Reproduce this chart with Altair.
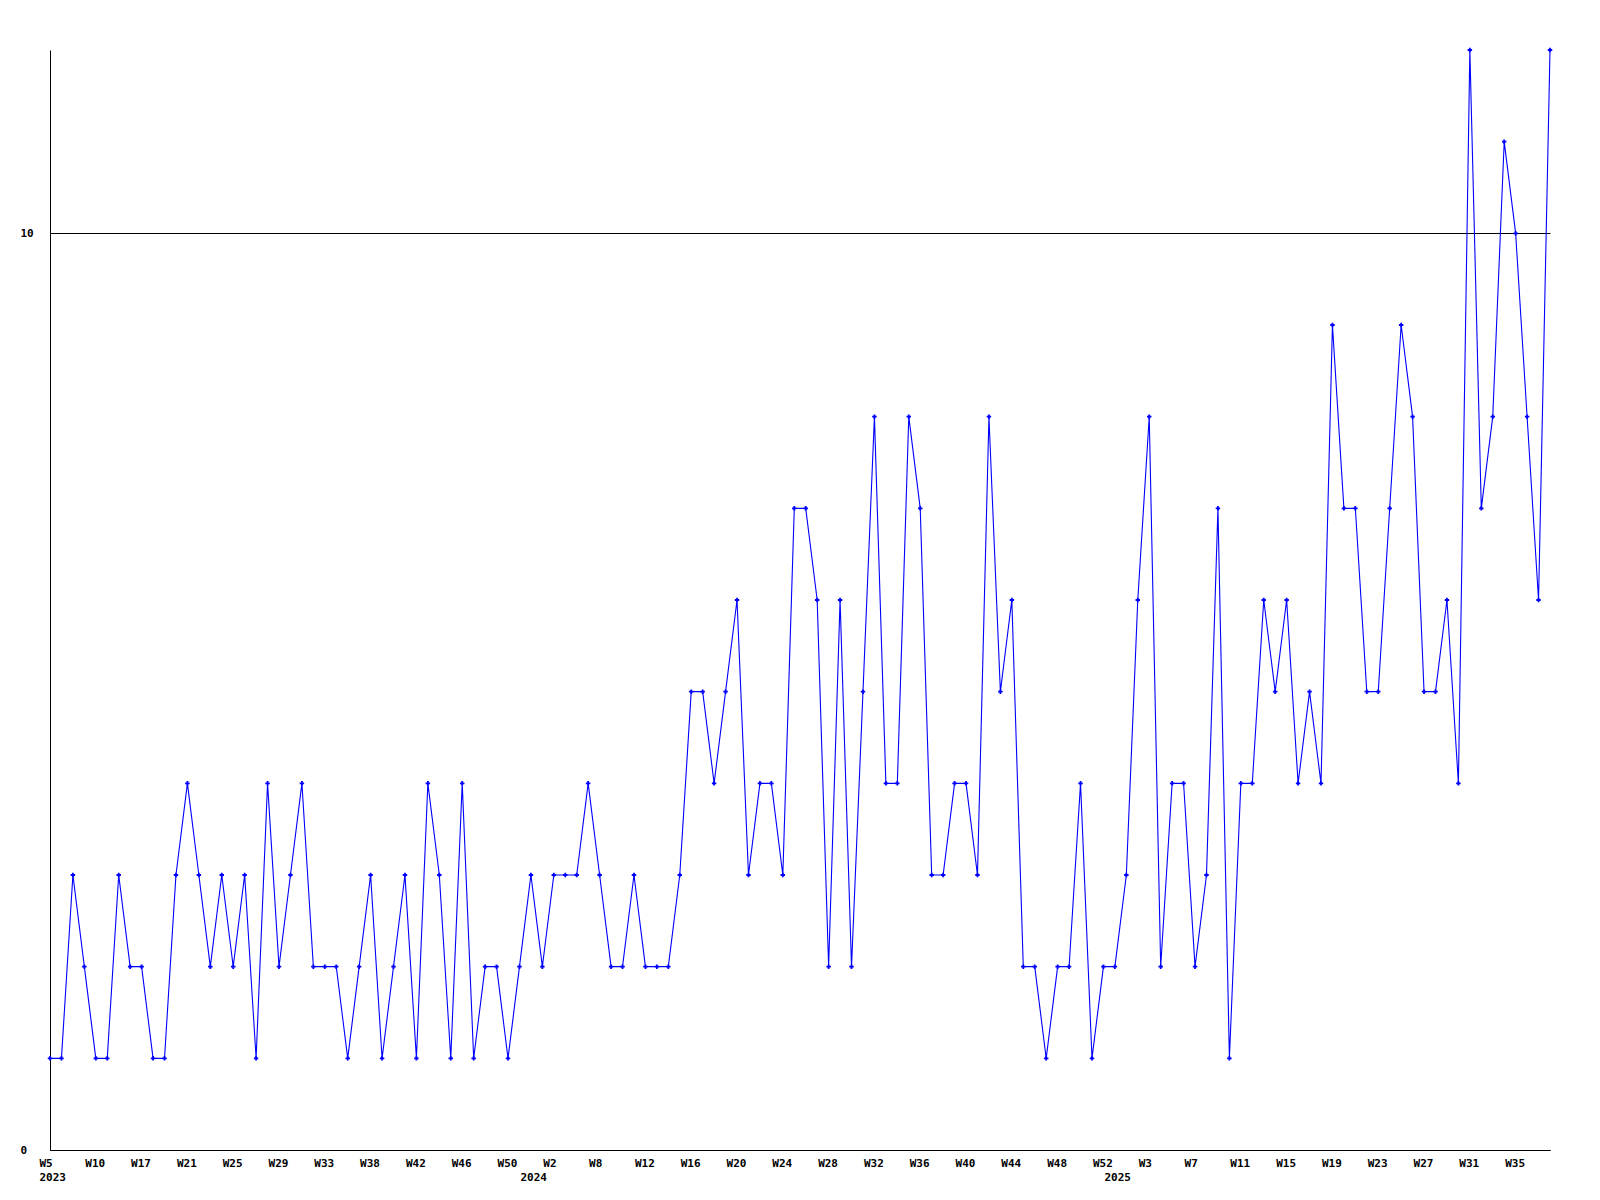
import altair as alt
import pandas as pd

# weekly values, one per point (W5 2023 ... 2025)
values = [
    1, 1, 3, 2, 1, 1, 3, 2, 2, 1,
    1, 3, 4, 3, 2, 3, 2, 3, 1, 4,
    2, 3, 4, 2, 2, 2, 1, 2, 3, 1,
    2, 3, 1, 4, 3, 1, 4, 1, 2, 2,
    1, 2, 3, 2, 3, 3, 3, 4, 3, 2,
    2, 3, 2, 2, 2, 3, 5, 5, 4, 5,
    6, 3, 4, 4, 3, 7, 7, 6, 2, 6,
    2, 5, 8, 4, 4, 8, 7, 3, 3, 4,
    4, 3, 8, 5, 6, 2, 2, 1, 2, 2,
    4, 1, 2, 2, 3, 6, 8, 2, 4, 4,
    2, 3, 7, 1, 4, 4, 6, 5, 6, 4,
    5, 4, 9, 7, 7, 5, 5, 7, 9, 8,
    5, 5, 6, 4, 12, 7, 8, 11, 10, 8,
    6, 12,
]

# week tick labels (every 4th point)
tick_labels = ["W5", "W10", "W17", "W21", "W25", "W29", "W33", "W38", "W42",
               "W46", "W50", "W2", "W8", "W12", "W16", "W20", "W24", "W28",
               "W32", "W36", "W40", "W44", "W48", "W52", "W3", "W7", "W11",
               "W15", "W19", "W23", "W27", "W31", "W35"]
tick_index = [i * 4 for i in range(len(tick_labels))]

# year labels and the point index where each year starts
year_labels = ["2023", "2024", "2025"]
year_index = [0, 42, 93]

FONT = "DejaVu Sans Mono"
W, H = 1500, 1100

df = pd.DataFrame({"idx": list(range(len(values))), "value": values})
ticks = pd.DataFrame({"idx": tick_index, "label": tick_labels})
years = pd.DataFrame({"idx": year_index, "label": year_labels})

x_scale = alt.Scale(domain=[0, len(values) - 1], nice=False, zero=False)
y_scale = alt.Scale(domain=[0, 12], nice=False)

x_axis = alt.Axis(
    values=tick_index, labels=False, grid=False, ticks=False,
    domainColor="black", domainWidth=1, title=None,
)
y_axis = alt.Axis(
    values=[0, 10], grid=True, gridColor="black", gridOpacity=1, gridWidth=1,
    ticks=False, tickSize=0, domainColor="black", domainWidth=1,
    labelAlign="left", labelPadding=30, labelBaseline="middle",
    labelFont=FONT, labelFontSize=11, labelFontWeight="bold", labelColor="black",
    title=None,
)

base = alt.Chart(df).encode(
    x=alt.X("idx:Q", scale=x_scale, axis=x_axis),
    y=alt.Y("value:Q", scale=y_scale, axis=y_axis),
)

line = base.mark_line(color="#0000ff", strokeWidth=1.1)
pts = base.mark_point(shape="cross", filled=True, size=20, color="#0000ff", opacity=1)

text_style = dict(align="left", baseline="top", dx=-10.5, font=FONT, fontSize=11,
                  fontWeight="bold", color="black")

tick_text = alt.Chart(ticks).mark_text(**text_style).encode(
    x=alt.X("idx:Q", scale=x_scale, axis=x_axis),
    y=alt.value(H + 8),
    text="label:N",
)

year_text = alt.Chart(years).mark_text(**text_style).encode(
    x=alt.X("idx:Q", scale=x_scale, axis=x_axis),
    y=alt.value(H + 22),
    text="label:N",
)

chart = alt.layer(line, pts, tick_text, year_text).properties(
    width=W, height=H,
    background="white",
    autosize=alt.AutoSizeParams(type="none"),
    padding={"left": 42, "top": 42, "right": 40, "bottom": 40},
).configure_view(stroke=None)

chart.save("out.html", embed_options={"renderer": "svg", "actions": False})
